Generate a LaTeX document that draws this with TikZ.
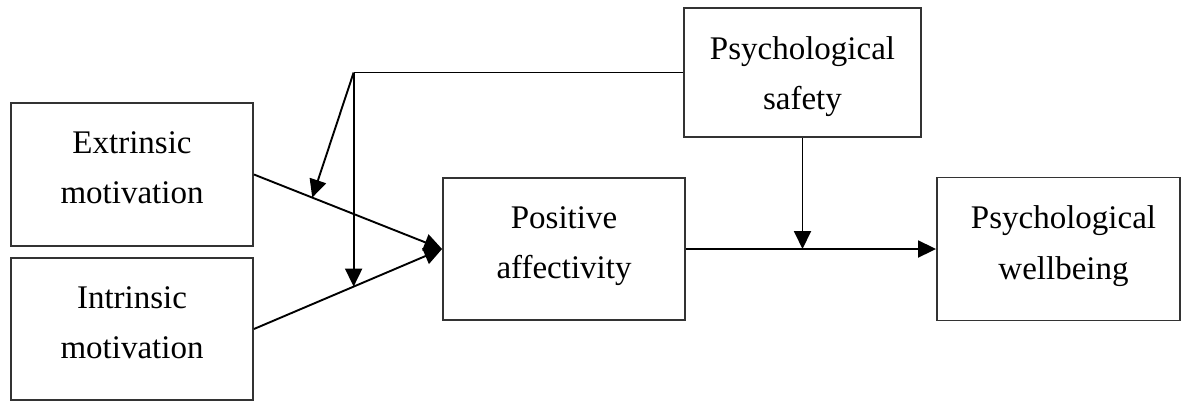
\documentclass[tikz,border=0pt]{standalone}
\usepackage{fontspec}
\setmainfont{Liberation Serif}
\usetikzlibrary{arrows.meta,calc}
\begin{document}
\begin{tikzpicture}[x=1pt,y=-1pt,
  box/.style={draw=black!80, line width=1.9pt, rectangle, inner sep=0pt},
  lbl/.style={font=\fontsize{33}{50.5}\selectfont, align=center, anchor=north, inner sep=0pt},
  link/.style={line width=1.9pt},
  arr/.style={link, -{Triangle[length=18pt,width=17pt]}}]
\useasboundingbox (0,0) rectangle (1183,402);

% boxes of the model
\node[box, minimum width=242pt, minimum height=143pt] (ext) at (132,174.5) {};
\node[box, minimum width=242pt, minimum height=142pt] (int) at (132,329) {};
\node[box, minimum width=242pt, minimum height=142pt] (pos) at (564,249) {};
\node[box, minimum width=237pt, minimum height=129pt] (saf) at (802.5,72.5) {};
\node[box, minimum width=243pt, minimum height=143pt] (wb)  at (1058.5,249) {};

% labels, first baseline about 51pt below each top edge
\node[lbl] (extT) at ($(ext.north)+(0,29)$) {Extrinsic\\motivation};
\node[lbl] (intT) at ($(int.north)+(0,29)$) {Intrinsic\\motivation};
\node[lbl] (posT) at ($(pos.north)+(0,29)$) {Positive\\affectivity};
\node[lbl] (safT) at ($(saf.north)+(0,29)$) {Psychological\\safety};
\node[lbl] (wbT)  at ($(wb.north)+(5,29)$) {Psychological\\wellbeing};

% main paths
\draw[arr] (ext.east) -- (pos.west);
\draw[arr] (int.east) -- (pos.west);
\draw[arr] (pos.east) -- (wb.west);

% moderation by psychological safety
\coordinate (p1) at ($(ext.east)!0.31!(pos.west)$);
\coordinate (p2) at ($(int.east)!0.53!(pos.west)$);
\coordinate (c)  at (p2 |- saf.west);
\coordinate (m)  at (saf.south |- pos.east);
\draw[arr] (saf.south) -- (m);
\draw[link] (saf.west) -- (c);
\draw[arr] (c) -- (p1);
\draw[arr] (c) -- (p2);
\end{tikzpicture}
\end{document}
